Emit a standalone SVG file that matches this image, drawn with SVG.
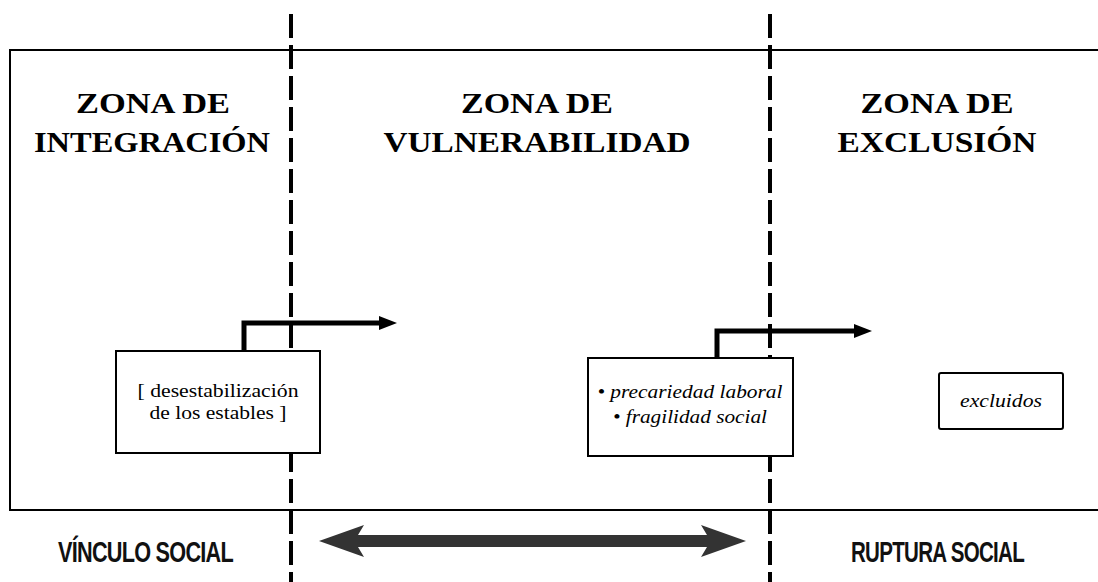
<svg xmlns="http://www.w3.org/2000/svg" width="1098" height="582" viewBox="0 0 1098 582">
<defs>
<style>
.title{font-family:"Liberation Serif","Times New Roman",serif;font-weight:bold;font-size:30px;fill:#000;text-anchor:middle}
.box{fill:#fff;stroke:#000;stroke-width:2}
.btxt{font-family:"Liberation Serif","Times New Roman",serif;font-size:19px;fill:#000;text-anchor:middle}
.itxt{font-family:"Liberation Serif","Times New Roman",serif;font-style:italic;font-size:19px;fill:#000;text-anchor:middle}
.foot{font-family:"Liberation Sans",Arial,sans-serif;font-weight:bold;font-size:29px;fill:#111;letter-spacing:-1px}
.dash{stroke:#000;stroke-width:4;stroke-dasharray:24 7;fill:none}
.elbow{stroke:#000;stroke-width:5;fill:none}
</style>
<marker id="ah" markerWidth="18" markerHeight="14" refX="2" refY="7" orient="auto" markerUnits="userSpaceOnUse">
<path d="M0,0 L18,7 L0,14 z" fill="#000"/>
</marker>
</defs>
<rect width="1098" height="582" fill="#fff"/>
<g id="frame">
<path d="M1098,50 H10 V510 H1098" fill="none" stroke="#000" stroke-width="2"/>
</g>
<g id="zona-integracion">
<text class="title" x="153" y="113" textLength="154" lengthAdjust="spacingAndGlyphs">ZONA DE</text>
<text class="title" x="152" y="152" textLength="236" lengthAdjust="spacingAndGlyphs">INTEGRACIÓN</text>
</g>
<g id="zona-vulnerabilidad">
<text class="title" x="537" y="113" textLength="152" lengthAdjust="spacingAndGlyphs">ZONA DE</text>
<text class="title" x="537" y="152" textLength="307" lengthAdjust="spacingAndGlyphs">VULNERABILIDAD</text>
</g>
<g id="zona-exclusion">
<text class="title" x="937" y="113" textLength="153" lengthAdjust="spacingAndGlyphs">ZONA DE</text>
<text class="title" x="937" y="152" textLength="199" lengthAdjust="spacingAndGlyphs">EXCLUSIÓN</text>
</g>
<g id="connectors">
<line class="dash" x1="291" y1="14" x2="291" y2="582"/>
<line class="dash" x1="770" y1="14" x2="770" y2="582"/>
<path class="elbow" d="M244,352 V323 H381" marker-end="url(#ah)"/>
<path class="elbow" d="M717,359 V331 H856" marker-end="url(#ah)"/>
<path d="M319,541 L364,525 L358,535 L707,535 L701,525 L746,541 L701,557 L707,547 L358,547 L364,557 Z" fill="#333"/>
</g>
<g id="desestabilizacion">
<rect class="box" x="116" y="351" width="204" height="102"/>
<text class="btxt" x="218" y="397" textLength="161" lengthAdjust="spacingAndGlyphs">[ desestabilización</text>
<text class="btxt" x="218" y="419" textLength="137" lengthAdjust="spacingAndGlyphs">de los estables ]</text>
</g>
<g id="precariedad">
<rect class="box" x="588" y="358" width="205" height="98"/>
<text class="itxt" x="690" y="398" textLength="185" lengthAdjust="spacingAndGlyphs">• precariedad laboral</text>
<text class="itxt" x="690" y="423" textLength="154" lengthAdjust="spacingAndGlyphs">• fragilidad social</text>
</g>
<g id="excluidos">
<rect class="box" x="939" y="373" width="124" height="56" rx="2" stroke="#333" stroke-width="2.5"/>
<text class="itxt" x="1001" y="407" font-size="17" textLength="82" lengthAdjust="spacingAndGlyphs">excluidos</text>
</g>
<g id="vinculo">
<text class="foot" x="58" y="562" textLength="175" lengthAdjust="spacingAndGlyphs">VÍNCULO SOCIAL</text>
</g>
<g id="ruptura">
<text class="foot" x="851" y="562" textLength="173" lengthAdjust="spacingAndGlyphs">RUPTURA SOCIAL</text>
</g>
</svg>
